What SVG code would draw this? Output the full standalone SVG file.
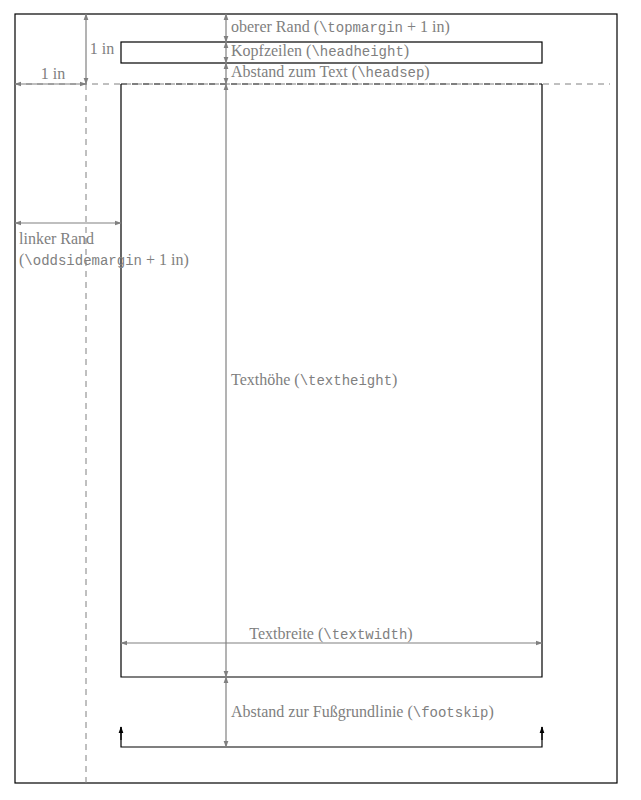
<svg xmlns="http://www.w3.org/2000/svg" width="641" height="800" viewBox="0 0 641 800">
<style>
.frame{fill:none;stroke:#000;stroke-width:1.2}
.dim{fill:none;stroke:#808080;stroke-width:1.2;marker-start:url(#ga);marker-end:url(#ga)}
.dash{fill:none;stroke:#808080;stroke-width:1;stroke-dasharray:6 5}
.lbl{font-family:"Liberation Serif",serif;font-size:16px;fill:#808080}
.m{font-family:"Liberation Mono",monospace;font-size:14px}
</style>
<defs>
<marker id="ga" viewBox="0 0 10 10" refX="9" refY="5" markerWidth="7" markerHeight="7" orient="auto-start-reverse" markerUnits="userSpaceOnUse"><path d="M0,1.5 L10,5 L0,8.5 Z" fill="#808080"/></marker>
<marker id="ba" viewBox="0 0 10 10" refX="9" refY="5" markerWidth="7" markerHeight="7" orient="auto" markerUnits="userSpaceOnUse"><path d="M0,1.5 L10,5 L0,8.5 Z" fill="#000"/></marker>
</defs>
<rect width="641" height="800" fill="#fff"/>
<g id="page"><rect class="frame" x="15" y="14" width="602" height="769"/></g>
<g id="header"><rect class="frame" x="121" y="42" width="421" height="21"/></g>
<g id="textblock">
<path class="frame" d="M121,84 V677 H542 V84"/>
<path d="M121,84 H542" fill="none" stroke="#000" stroke-width="1.2" stroke-dasharray="6 5"/>
</g>
<g id="footer"><path d="M121,727 V747 H542 V727" fill="none" stroke="#000" stroke-width="1.2"/>
<path d="M121,740 V727" fill="none" stroke="#000" stroke-width="1.2" marker-end="url(#ba)"/>
<path d="M542,740 V727" fill="none" stroke="#000" stroke-width="1.2" marker-end="url(#ba)"/></g>
<g id="connectors">
<path class="dash" d="M15,84 H610"/>
<path class="dash" d="M86,84 V783"/>
<path class="dim" d="M86,14 V84"/>
<path class="dim" d="M15,84 H86"/>
<path class="dim" d="M15,223 H121"/>
<path class="dim" d="M226,14 V42"/>
<path class="dim" d="M226,42 V63"/>
<path class="dim" d="M226,63 V84"/>
<path class="dim" d="M226,84 V677"/>
<path class="dim" d="M226,677 V747"/>
<path class="dim" d="M121,643 H542"/>
</g>
<g id="labels">
<text class="lbl" x="53" y="79" text-anchor="middle">1 in</text>
<text class="lbl" x="102" y="54" text-anchor="middle">1 in</text>
<text class="lbl" x="231" y="32">oberer Rand (<tspan class="m">\topmargin</tspan> + 1 in)</text>
<text class="lbl" x="231" y="56">Kopfzeilen (<tspan class="m">\headheight</tspan>)</text>
<text class="lbl" x="231" y="77">Abstand zum Text (<tspan class="m">\headsep</tspan>)</text>
<text class="lbl" x="19" y="244">linker Rand</text>
<text class="lbl" x="19" y="265">(<tspan class="m">\oddsidemargin</tspan> + 1 in)</text>
<text class="lbl" x="231" y="385">Texthöhe (<tspan class="m">\textheight</tspan>)</text>
<text class="lbl" x="331" y="639" text-anchor="middle">Textbreite (<tspan class="m">\textwidth</tspan>)</text>
<text class="lbl" x="231" y="717">Abstand zur Fußgrundlinie (<tspan class="m">\footskip</tspan>)</text>
</g>
</svg>
